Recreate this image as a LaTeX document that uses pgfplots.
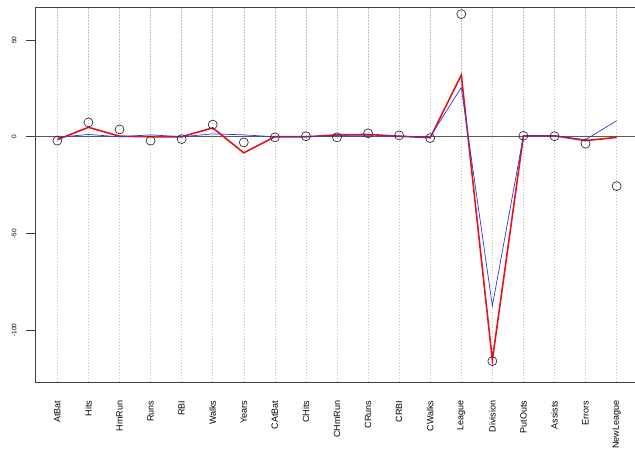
\documentclass[border=0pt]{standalone}
\usepackage{fontspec}
\setmainfont{Liberation Sans}
\usepackage{pgfplots}
\pgfplotsset{compat=1.18}
\usepackage{pgfplotstable}

% Coefficients per predictor: least squares (circles), two shrunken fits (lines)
\pgfplotstableread{
idx ols    red    blue
0   -2.0   -1.5   -0.3
1    7.4    4.9    1.2
2    3.8    0.3    0.0
3   -2.0    0.0    1.0
4   -1.2    0.0    0.0
5    6.3    4.6    1.5
6   -2.9   -8.3    1.0
7   -0.3    0.0    0.0
8    0.3    0.0    0.0
9   -0.3    1.0    0.5
10   1.8    1.2    0.5
11   0.7    0.3    0.3
12  -0.7   -0.5    0.0
13  63.4   31.9   25.5
14 -116.0 -115.5  -87.5
15   0.5    0.5    0.5
16   0.3    0.5    0.5
17  -3.6   -2.0   -1.5
18 -25.5   -0.3    8.3
}\coefs

\definecolor{rred}{RGB}{225,20,30}
\definecolor{rblue}{RGB}{55,55,215}
\definecolor{gridgray}{RGB}{195,195,195}

\begin{document}
\begin{tikzpicture}
\useasboundingbox (0,0) rectangle (635pt,451pt);
\begin{axis}[
  at={(35pt,69pt)}, anchor=south west,
  scale only axis,
  width=604pt, height=375pt,
  xmin=-0.72, xmax=18.72,
  ymin=-126.8, ymax=67.1,
  axis x line=box, axis y line=left,
  axis line style={draw=black!75, line width=0.8pt, -},
  xtick={0,...,18},
  xticklabels={AtBat,Hits,HmRun,Runs,RBI,Walks,Years,CAtBat,CHits,CHmRun,CRuns,CRBI,CWalks,League,Division,PutOuts,Assists,Errors,NewLeague},
  % shifts act in the rotated frame of the label
  x tick label style={rotate=90, anchor=east, font=\fontsize{9}{9}\selectfont, xshift=-6pt},
  xtick style={draw=none},
  ytick={-100,-50,0,50},
  yticklabels={-100,-50,0,50},
  y tick label style={rotate=90, anchor=south, font=\fontsize{6.5}{6.5}\selectfont, yshift=6pt},
  ytick style={draw=black!75, line width=0.8pt},
  tick align=outside,
  major tick length=9pt,
  xmajorgrids,
  major grid style={gridgray, dash pattern=on 1.5pt off 1.5pt, line width=0.5pt},
  clip=false,
]
  % reference line at zero
  \addplot[black!65, line width=0.9pt] coordinates {(-0.72,0) (18.72,0)};
  \addplot[rred, line width=1.6pt] table[x=idx, y=red] {\coefs};
  \addplot[rblue, line width=0.7pt] table[x=idx, y=blue] {\coefs};
  \addplot[only marks, mark=o, mark size=4.5pt, black!80, mark options={line width=0.7pt}] table[x=idx, y=ols] {\coefs};
\end{axis}
\end{tikzpicture}
\end{document}
